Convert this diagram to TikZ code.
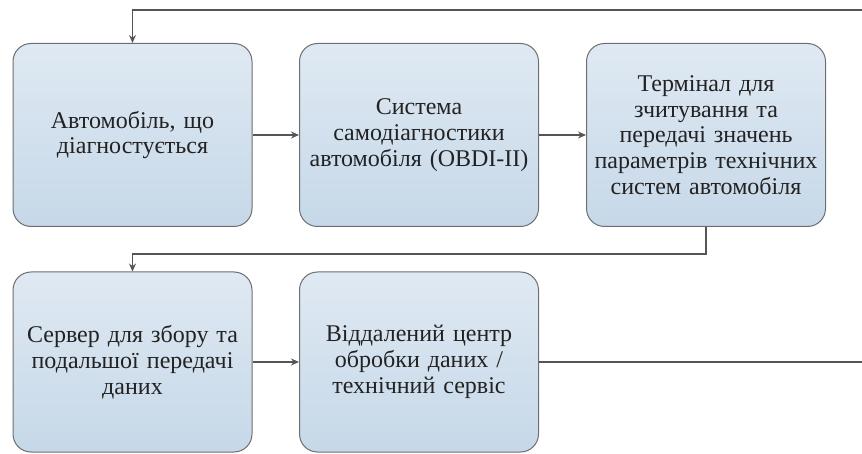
\documentclass[tikz,border=0pt]{standalone}
\usepackage{fontspec}
\setmainfont{Liberation Serif}
\usetikzlibrary{arrows.meta}
\definecolor{boxtop}{HTML}{DFE9F3}
\definecolor{boxbot}{HTML}{C6D8E8}
\definecolor{boxedge}{HTML}{6E6E6E}
\definecolor{linegray}{HTML}{555555}
\definecolor{txt}{HTML}{222222}
\begin{document}
\begin{tikzpicture}[x=1pt,y=-1pt,
  block/.style={draw=boxedge, line width=1pt, rounded corners=18pt,
    top color=boxtop, bottom color=boxbot,
    minimum width=239pt, minimum height=183pt, text width=236pt,
    align=center, text=txt, font=\fontsize{24}{25.8}\selectfont, inner sep=0pt},
  flow/.style={draw=linegray, line width=1.5pt, -{Stealth[length=8pt,width=7pt]}},
  plain/.style={draw=linegray, line width=1.5pt}]
\useasboundingbox (0,0) rectangle (862,454);

\node[block] (b1) at (132.5,135) {Автомобіль, що\\діагностується};
\node[block] (b2) at (419,135) {Система\\самодіагностики\\автомобіля (OBDI-II)};
\node[block] (b3) at (706,135) {Термінал для\\зчитування та\\передачі значень\\параметрів технічних\\систем автомобіля};
\node[block, minimum height=180pt] (b4) at (132.5,362) {Сервер для збору та\\подальшої передачі\\даних};
\node[block, minimum height=180pt] (b5) at (419,362) {Віддалений центр\\обробки даних /\\технічний сервіс};

\coordinate (topR) at (862,10);
\coordinate (botR) at (862,362);

\draw[flow] (topR) -| (b1.north);
\draw[flow] (b1) -- (b2);
\draw[flow] (b2) -- (b3);
\draw[flow] (b3.south) -- ++(0,27) -| (b4.north);
\draw[flow] (b4) -- (b5);
\draw[plain] (b5.east) -- (botR);
\end{tikzpicture}
\end{document}
